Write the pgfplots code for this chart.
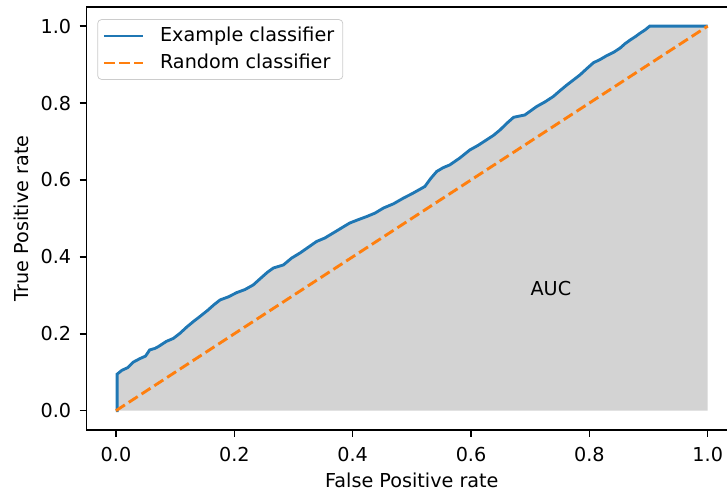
\documentclass[border=0pt]{standalone}
\usepackage{pgfplots}
\pgfplotsset{compat=1.18}
\usepackage{pgfplotstable}
\usepackage{fontspec}
\setmainfont{DejaVu Sans}
\definecolor{mplblue}{RGB}{31,119,180}
\definecolor{mplorange}{RGB}{255,127,14}
\definecolor{mplgray}{RGB}{211,211,211}
\pgfplotstableread{
x y
0.000 0.000
0.002 0.000
0.002 0.095
0.010 0.105
0.020 0.112
0.029 0.126
0.040 0.135
0.050 0.142
0.057 0.158
0.066 0.162
0.072 0.167
0.085 0.180
0.097 0.188
0.108 0.201
0.120 0.218
0.131 0.232
0.142 0.245
0.155 0.261
0.166 0.276
0.176 0.288
0.190 0.296
0.204 0.307
0.218 0.315
0.232 0.327
0.245 0.345
0.256 0.360
0.266 0.371
0.283 0.379
0.297 0.397
0.311 0.410
0.325 0.425
0.339 0.440
0.353 0.449
0.367 0.462
0.381 0.475
0.395 0.488
0.410 0.497
0.424 0.505
0.438 0.514
0.452 0.527
0.469 0.538
0.486 0.553
0.500 0.564
0.514 0.576
0.522 0.583
0.532 0.604
0.542 0.622
0.553 0.632
0.564 0.639
0.581 0.657
0.598 0.678
0.612 0.690
0.626 0.704
0.638 0.716
0.649 0.730
0.661 0.748
0.672 0.763
0.691 0.769
0.711 0.791
0.725 0.803
0.739 0.817
0.751 0.833
0.762 0.847
0.773 0.860
0.784 0.873
0.796 0.890
0.807 0.905
0.818 0.913
0.829 0.923
0.841 0.932
0.852 0.943
0.860 0.954
0.869 0.964
0.878 0.973
0.886 0.982
0.894 0.990
0.902 1.000
1.000 1.000
}\roc
\begin{document}
\begin{tikzpicture}
\begin{axis}[
  scale only axis, width=333.8pt, height=220.4pt,
  xmin=-0.05, xmax=1.0326, ymin=-0.05, ymax=1.05,
  axis y line*=left,
  xtick={0,0.2,0.4,0.6,0.8,1.0},
  ytick={0,0.2,0.4,0.6,0.8,1.0},
  tick align=outside, tick pos=left,
  major tick length=3.5pt,
  every tick/.style={black, line width=0.8pt},
  axis line style={black, line width=0.8pt},
  /pgf/number format/.cd, fixed, fixed zerofill, precision=1, assume math mode=true,
  /pgfplots/.cd,
  tick label style={font=\fontsize{10}{12}\selectfont},
  xticklabel style={yshift=-1.9pt},
  yticklabel style={xshift=-0.9pt},
  xlabel={False Positive rate},
  ylabel={True Positive rate},
  every axis x label/.style={at={(axis description cs:0.508,-0.1357)}, anchor=base},
  every axis y label/.style={at={(axis description cs:-0.0908,0.5)}, rotate=90, anchor=base},
  legend cell align=left,
  legend image code/.code={\draw[#1] (0pt,0pt) -- (20.5pt,0pt);},
  legend style={at={(0,1)}, anchor=north west, xshift=5.7pt, yshift=-6.4pt,
    draw=black!20, rounded corners=2pt, fill=white, fill opacity=0.8, text opacity=1,
    inner xsep=2.5pt, inner ysep=2pt, row sep=1pt,
    nodes={inner sep=2pt},
    font=\fontsize{10}{12}\selectfont,
    /tikz/every odd column/.append style={column sep=6pt}},
]
\addplot[fill=mplgray, draw=none, forget plot] table {\roc} \closedcycle;
\addplot[mplblue, line width=1.5pt] table {\roc};
\addlegendentry{Example classifier}
\addplot[mplorange, line width=1.5pt, dash pattern=on 5.55pt off 2.4pt] coordinates {(0,0) (1,1)};
\addlegendentry{Random classifier}
\node[anchor=base west, inner sep=0pt, font=\fontsize{10}{12}\selectfont] at (axis cs:0.7,0.3) {AUC};
\end{axis}
\pgfresetboundingbox
\path (-45.0pt,-32.8pt) rectangle (333.8pt,224.0pt);
\end{tikzpicture}
\end{document}
